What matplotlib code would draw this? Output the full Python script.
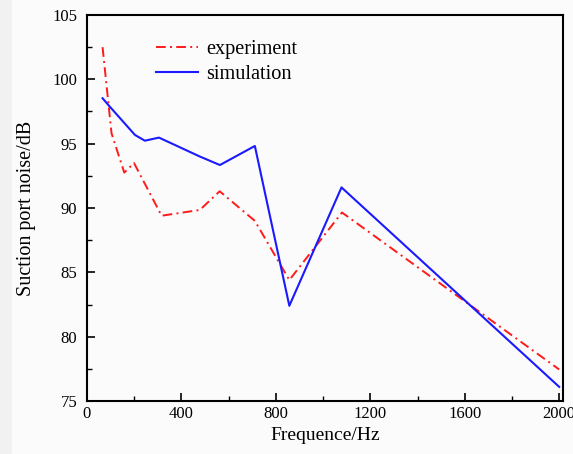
import matplotlib
matplotlib.use("Agg")
import matplotlib.pyplot as plt
from matplotlib.ticker import MultipleLocator
from matplotlib.patches import Rectangle

exp_freq = [66, 104, 158, 199, 316, 478, 562, 711, 857, 1080, 2000]
exp_noise = [102.5, 95.8, 92.75, 93.5, 89.4, 89.85, 91.3, 89.0, 84.4, 89.65, 77.45]
sim_freq = [66, 94, 203, 245, 305, 478, 563, 711, 857, 1078, 2000]
sim_noise = [98.53, 97.93, 95.68, 95.23, 95.47, 94.0, 93.34, 94.82, 82.4, 91.6, 76.1]

plt.rcParams['font.family'] = ['Liberation Serif', 'DejaVu Serif']

fig = plt.figure(figsize=(5.73, 4.54), dpi=100, facecolor='#fbfbfb')
fig.patches.append(Rectangle((0, 0), 12 / 573, 1, transform=fig.transFigure,
                             facecolor='#f1f1f1', edgecolor='none', zorder=-10))
ax = fig.add_axes([0.1518, 0.1167, 0.8307, 0.8503])
ax.set_facecolor('#fbfbfb')

ax.plot(exp_freq, exp_noise, color='#ff1a1a', lw=1.4, dashes=(5, 2.2, 1, 2.2), label='experiment')
ax.plot(sim_freq, sim_noise, color='#1a1aff', lw=1.5, label='simulation')

ax.set_xlim(0, 2016)
ax.set_ylim(75, 105)
ax.xaxis.set_major_locator(MultipleLocator(400))
ax.xaxis.set_minor_locator(MultipleLocator(200))
ax.yaxis.set_major_locator(MultipleLocator(5))
ax.yaxis.set_minor_locator(MultipleLocator(2.5))
ax.tick_params(which='major', direction='in', length=6, width=1.2, labelsize=12, top=False, right=False)
ax.tick_params(axis='y', which='major', pad=7)
ax.tick_params(which='minor', direction='in', length=3.5, width=1.0, top=False, right=False)
for s in ax.spines.values():
    s.set_linewidth(1.5)

ax.set_xlabel('Frequence/Hz', fontsize=14, labelpad=4)
ax.set_ylabel('Suction port noise/dB', fontsize=14.5, labelpad=12)

ax.legend(loc='upper left', bbox_to_anchor=(0.106, 0.983), frameon=False, fontsize=14.6,
          handlelength=2.07, handletextpad=0.4, labelspacing=0.3)

fig.savefig('out.png', dpi=100, facecolor=fig.get_facecolor())
